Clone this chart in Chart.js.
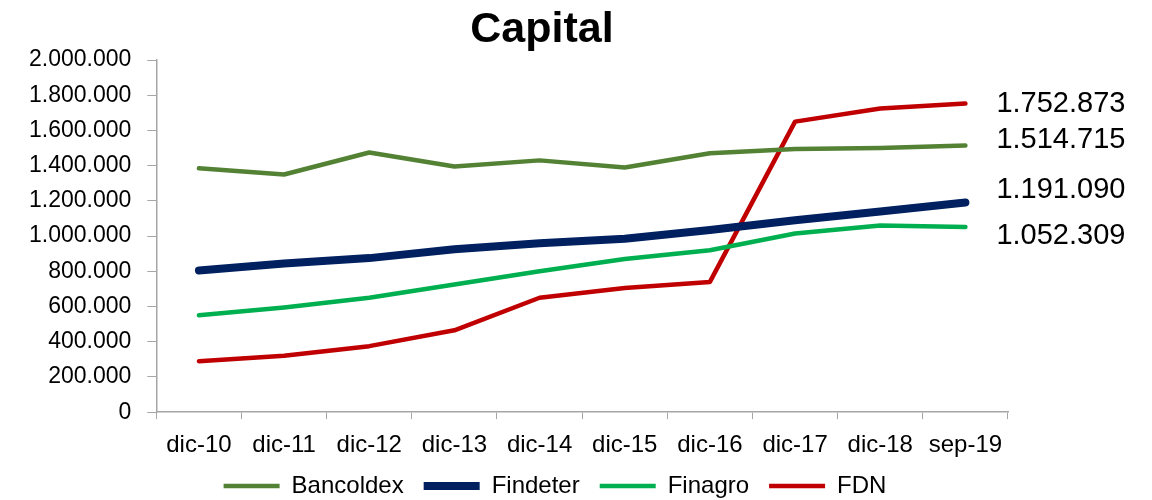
<!DOCTYPE html>
<html>
<head>
<meta charset="utf-8">
<script src="https://cdn.jsdelivr.net/npm/chart.js@4"></script>
<style>
    body { margin: 0; background: #fff; }
    #wrap { width: 1152px; height: 500px; }
</style>
</head>
<body>
<div id="wrap"><canvas id="capitalChart" width="1152" height="500"></canvas></div>
<script>
// Data
const chartTitle = 'Capital';
const periods = ['dic-10', 'dic-11', 'dic-12', 'dic-13', 'dic-14', 'dic-15', 'dic-16', 'dic-17', 'dic-18', 'sep-19'];
const bancoldex = [1385000, 1350000, 1475000, 1395000, 1430000, 1390000, 1470000, 1495000, 1500000, 1514715];
const findeter = [805000, 845000, 875000, 925000, 960000, 985000, 1035000, 1090000, 1140000, 1191090];
const finagro = [550000, 595000, 650000, 725000, 800000, 870000, 920000, 1015000, 1060000, 1052309];
const fdn = [290000, 320000, 375000, 465000, 650000, 705000, 740000, 1650000, 1725000, 1752873];
const yTicks = [0, 200000, 400000, 600000, 800000, 1000000, 1200000, 1400000, 1600000, 1800000, 2000000];

const FONT = "'Liberation Sans', Arial, sans-serif";

// 1.234.567 style
const fmt = (v) => String(Math.round(v)).replace(/\B(?=(\d{3})+(?!\d))/g, '.');

// Title + last-value labels drawn by hand (title is off-centre in the original)
const extrasPlugin = {
    id: 'extras',
    afterLayout(chart) {
        // legend in the original is not centred on the canvas, slide it over (and up a bit)
        const lg = chart.legend;
        if (!lg) return;
        const dx = 555 - (lg.left + lg.right) / 2;
        const dy = -18;
        lg.left += dx;
        lg.right += dx;
        lg.top += dy;
        lg.bottom += dy;
    },
    afterDraw(chart) {
        const ctx = chart.ctx;
        ctx.save();
        ctx.fillStyle = '#000';
        ctx.font = `bold 43px ${FONT}`;
        ctx.textAlign = 'center';
        ctx.textBaseline = 'middle';
        ctx.fillText(chartTitle, 542, 30);

        // nudges so the labels don't collide, like the original
        const nudge = [-5, -12, 9, 0];
        ctx.font = `29px ${FONT}`;
        ctx.textAlign = 'left';
        chart.data.datasets.forEach((ds, i) => {
            const meta = chart.getDatasetMeta(i);
            const last = meta.data[meta.data.length - 1];
            ctx.fillText(fmt(ds.data[ds.data.length - 1]), last.x + 31, last.y + nudge[i]);
        });
        ctx.restore();
    }
};

const mkSet = (label, data, color, width) => ({
    label: label,
    data: data,
    borderColor: color,
    backgroundColor: color,
    borderWidth: width,
    pointRadius: 0,
    pointHoverRadius: 0,
    tension: 0,
    borderCapStyle: 'round',
    borderJoinStyle: 'round'
});

new Chart(document.getElementById('capitalChart'), {
    type: 'line',
    data: {
        labels: periods,
        datasets: [
            mkSet('Bancoldex', bancoldex, '#548235', 4.5),
            mkSet('Findeter', findeter, '#002060', 8),
            mkSet('Finagro', finagro, '#00B050', 4.5),
            mkSet('FDN', fdn, '#C00000', 4.5)
        ]
    },
    plugins: [extrasPlugin],
    options: {
        responsive: false,
        animation: false,
        devicePixelRatio: 1,
        layout: { padding: { top: 60, right: 144, left: 13, bottom: -26 } },
        plugins: {
            title: { display: false },
            tooltip: { enabled: false },
            legend: {
                position: 'bottom',
                labels: {
                    color: '#000',
                    font: { family: FONT, size: 24 },
                    usePointStyle: true,
                    pointStyle: 'line',
                    pointStyleWidth: 56,
                    padding: 20
                }
            }
        },
        scales: {
            x: {
                offset: true,
                grid: {
                    offset: true,
                    drawOnChartArea: false,
                    drawTicks: true,
                    tickLength: 7,
                    color: '#A6A6A6'
                },
                border: { color: '#A6A6A6', width: 1.5 },
                ticks: {
                    color: '#000',
                    font: { family: FONT, size: 24 },
                    maxRotation: 0,
                    autoSkip: false,
                    padding: 12
                }
            },
            y: {
                min: 0,
                max: 2000000,
                afterBuildTicks: (axis) => { axis.ticks = yTicks.map(v => ({ value: v })); },
                grid: {
                    drawOnChartArea: false,
                    drawTicks: true,
                    tickLength: 9,
                    color: '#A6A6A6'
                },
                border: { color: '#A6A6A6', width: 1.5 },
                ticks: {
                    color: '#000',
                    font: { family: FONT, size: 23 },
                    padding: 16,
                    callback: (v) => fmt(v)
                }
            }
        }
    }
});
</script>
</body>
</html>
